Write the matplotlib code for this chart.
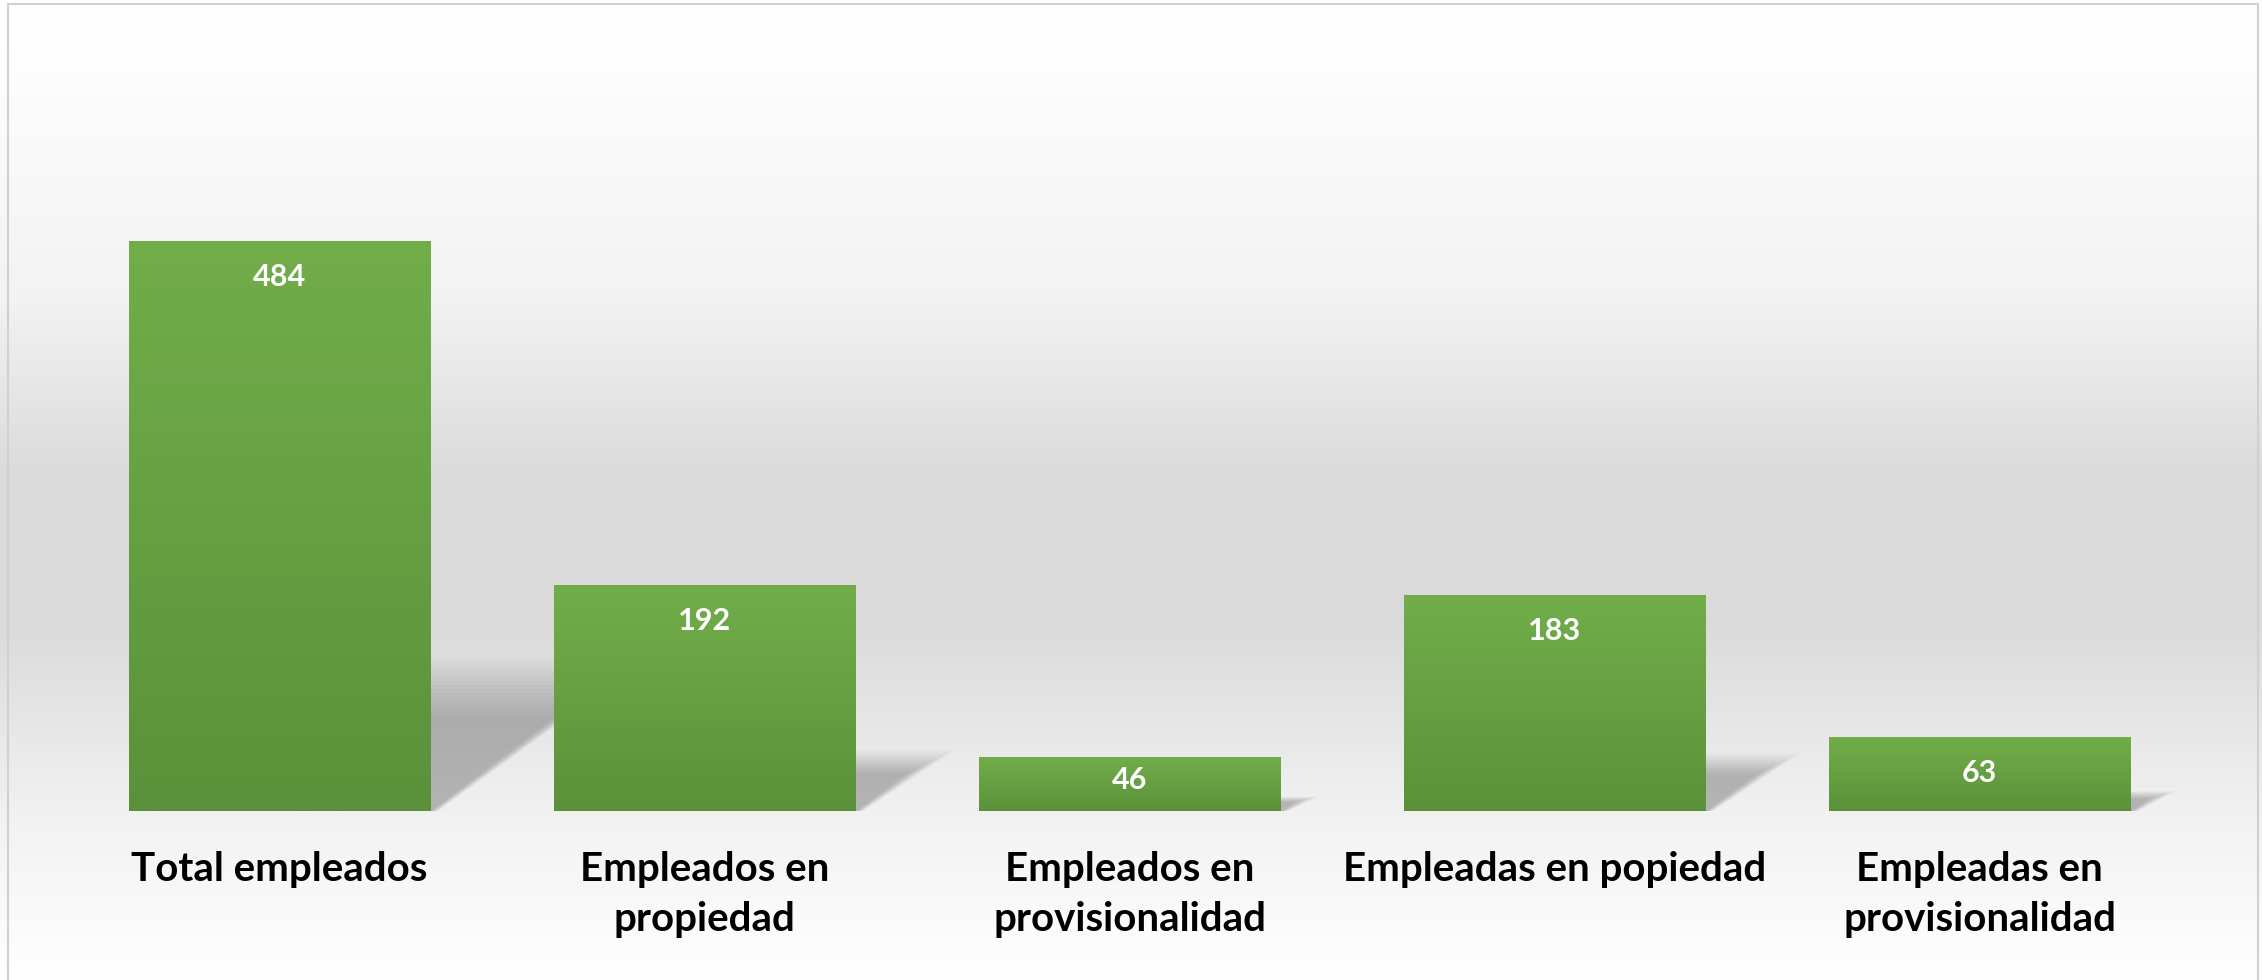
import numpy as np
import matplotlib
matplotlib.use("Agg")
import matplotlib.pyplot as plt
from matplotlib.colors import LinearSegmentedColormap
from matplotlib.patches import Polygon, Rectangle

categories = ["Total empleados", "Empleados en\npropiedad", "Empleados en\nprovisionalidad",
              "Empleadas en popiedad", "Empleadas en\nprovisionalidad"]
values = [484, 192, 46, 183, 63]

W, H = 2262, 980
fig = plt.figure(figsize=(W / 100, H / 100), dpi=100)

# background gradient (figure-level)
bg = fig.add_axes([0, 0, 1, 1], zorder=-10)
bg.set_axis_off()
rows = np.arange(H)
stops_y = [0, 60, 300, 480, 620, 811, 930, 980]
stops_v = [1.0, 0.995, 0.95, 0.855, 0.855, 0.945, 0.985, 1.0]
col = np.interp(rows, stops_y, stops_v)
img = np.repeat(col[:, None], 4, axis=1)
bg.imshow(np.dstack([img, img, img]), extent=[0, 1, 0, 1], aspect="auto", origin="upper",
          interpolation="bilinear")
bg.set_xlim(0, 1)
bg.set_ylim(0, 1)
bg.add_patch(Rectangle((8 / W, -0.05), (2258 - 8) / W, (980 - 4) / H + 0.05,
                       transform=bg.transAxes, fill=False, edgecolor="#d0d0d0", lw=1.5))

# main axes
left_px, right_px, base_px, top_px = 67, 2192, 811, 30
ppy = 1.178
ax = fig.add_axes([left_px / W, (H - base_px) / H, (right_px - left_px) / W, (base_px - top_px) / H])
ax.patch.set_alpha(0)
for s in ax.spines.values():
    s.set_visible(False)

w = 0.71
x = np.arange(len(values))
bars = ax.bar(x, values, width=w, color="#6aa444", zorder=3)

cmap = LinearSegmentedColormap.from_list("g", ["#5b913a", "#66a042", "#72ad4a"])
grad = np.linspace(0, 1, 256)[:, None]
for b in bars:
    x0, y0 = b.get_x(), b.get_y()
    bw, bh = b.get_width(), b.get_height()
    im = ax.imshow(grad, extent=[x0, x0 + bw, y0, y0 + bh], origin="lower", aspect="auto",
                   cmap=cmap, zorder=3.5, interpolation="bilinear")
    im.set_clip_path(b)

# perspective shadows
ppx = (right_px - left_px) / len(values)
for b in bars:
    x0, x1 = b.get_x(), b.get_x() + b.get_width()
    v = b.get_height()
    hs = 0.23 * v
    dx = 1.3 * hs * ppy / ppx
    n = 16
    for t in np.linspace(0, 1, n):
        sc = 0.72 + 0.45 * t
        ext = (2 + 18 * t) / ppx
        poly = Polygon([(x0, 0), (x1 + ext * 0.4, 0), (x1 + dx * sc + ext, hs * sc),
                        (x0 + dx * sc, hs * sc)], closed=True, facecolor="black",
                       edgecolor="none", alpha=0.017, zorder=2)
        ax.add_patch(poly)

for b in bars:
    h_px = b.get_height() * ppy
    off_px = min(36.0, h_px - 31.0)
    ax.annotate(f"{int(b.get_height())}", (b.get_x() + b.get_width() / 2, b.get_height()),
                xytext=(0, -off_px * 0.72), textcoords="offset points", ha="center", va="center",
                color="white", fontsize=22, fontweight="bold", fontfamily="Lato", zorder=5)

ax.set_xlim(-0.5, len(values) - 0.5)
ax.set_ylim(0, (base_px - top_px) / ppy)
ax.set_yticks([])
ax.set_xticks(x)
ax.set_xticklabels(categories, fontsize=29, fontweight="bold", fontfamily="Lato",
                   color="black", linespacing=1.42)
ax.tick_params(axis="x", length=0, pad=29)

fig.savefig("out.png", dpi=100)
